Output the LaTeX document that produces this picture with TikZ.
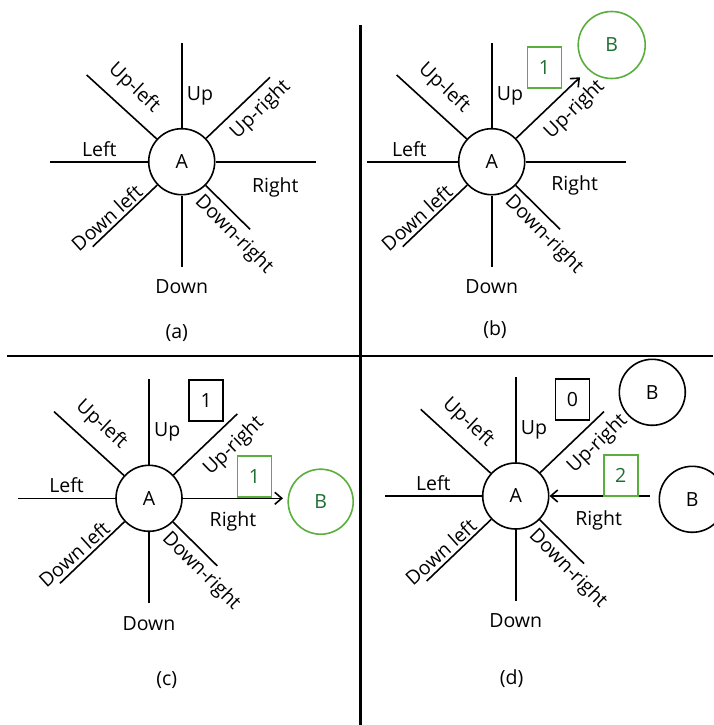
\documentclass[tikz,border=0pt]{standalone}
\usepackage{fontspec}
\setmainfont{Open Sans}
\usetikzlibrary{arrows.meta,calc}
\definecolor{gline}{HTML}{5AAE3C}
\definecolor{gtext}{HTML}{1E6E30}
\tikzset{
 txt/.style={font=\fontsize{19.5}{24}\selectfont},
 circ/.style={circle,draw,line width=1.6pt,minimum size=66pt,inner sep=0pt,txt},
 lbl/.style={inner sep=0pt,txt},
 spoke/.style={line width=1.6pt},
 arr/.style={spoke,-{Straight Barb[length=7pt,width=12pt]}},
 rarr/.style={spoke,{Straight Barb[length=7pt,width=12pt]}-},
 numbox/.style={draw,line width=1.8pt,minimum width=34pt,minimum height=41pt,inner sep=0pt,txt},
 gbox/.style={numbox,draw=gline,text=gtext},
 gcirc/.style={circ,draw=gline,text=gtext},
 divider/.style={line width=2.4pt},
}
\newcommand\mkpanel[7]{%
\begin{scope}[shift={(#2,#3)}]
 \node[circ] (#1-A) at (0,0) {A};
 \coordinate (#1-U) at (0,-119);
 \coordinate (#1-D) at (0,105);
 \coordinate (#1-L) at (-#4,0);
 \coordinate (#1-R) at (134,0);
 \coordinate (#1-UL) at (-95,-86.7);
 \coordinate (#1-UR) at (88.3,-84.4);
 \coordinate (#1-DL) at (-89,85);
 \coordinate (#1-DR) at (68.3,67.6);
 \node[lbl] (#1-tU) at (18.3,-66) {Up};
 \node[lbl,rotate=-43] (#1-tUL) at (-47.7,-73.5) {Up-left};
 \node[lbl,rotate=44] (#1-tUR) at (#7,-52) {Up-right};
 \node[lbl] (#1-tL) at (-82.4,-12.7) {Left};
 \node[lbl] (#1-tR) at (#5,#6) {Right};
 \node[lbl,rotate=42] (#1-tDL) at (-75,56) {Down left};
 \node[lbl,rotate=-45] (#1-tDR) at (52,73) {Down-right};
 \node[lbl] (#1-tD) at (0,125) {Down};
\end{scope}}
\begin{document}
\begin{tikzpicture}[x=1pt,y=-1pt]
\useasboundingbox (0,0) rectangle (713,725);
\mkpanel{a}{181.7}{161.7}{131.7}{93.6}{25.6}{79}
\mkpanel{b}{491.7}{161.7}{124.4}{83}{23.5}{83}
\mkpanel{c}{149}{498.3}{130.7}{84}{23.5}{85}
\mkpanel{d}{515.7}{496}{130.7}{83}{24}{82}
\foreach \p in {a,b,c,d}{
  \foreach \d in {U,D,L,UL,DL,DR}{\draw[spoke] (\p-A) -- (\p-\d);}
}
\draw[spoke] (a-A) -- (a-UR);
\draw[spoke] (a-A) -- (a-R);
\draw[arr] (b-A) -- (b-UR);
\draw[spoke] (b-A) -- (b-R);
\draw[spoke] (c-A) -- (c-UR);
\draw[arr] (c-A) -- (c-R);
\draw[spoke] (d-A) -- (d-UR);
\draw[rarr] (d-A) -- (d-R);
% extras
\node[gbox] (b-n1) at (544.5,67.2) {1};
\node[gcirc,minimum size=67pt] (b-B) at (611.7,45) {B};
\node[numbox] (c-n1) at (206.3,400.3) {1};
\node[gbox] (c-n2) at (254.5,476.8) {1};
\node[gcirc,minimum size=65pt] (c-B) at (320.7,501.7) {B};
\node[numbox] (d-n0) at (572.5,399.5) {0};
\node[circ] (d-B1) at (652.3,392.3) {B};
\node[gbox] (d-n2) at (620.8,475.8) {2};
\node[circ] (d-B2) at (692.3,499.3) {B};
% captions
\node[lbl] (capa) at (176.7,333.3) {(a)};
\node[lbl] (capb) at (495,330) {(b)};
\node[lbl] (capc) at (166.7,680) {(c)};
\node[lbl] (capd) at (511.7,678.3) {(d)};
% dividers
\draw[divider] (7,356) -- (713,356);
\draw[divider] (360.5,25) -- (360.5,725);
\end{tikzpicture}
\end{document}
